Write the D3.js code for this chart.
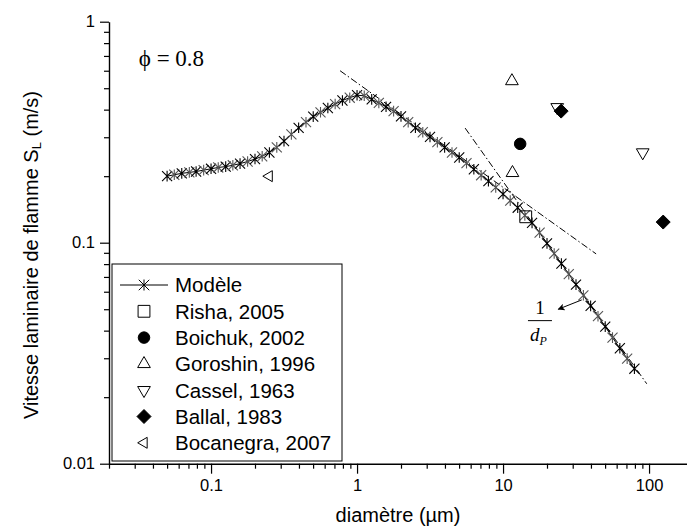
<!DOCTYPE html>
<html>
<head>
<meta charset="utf-8">
<script src="https://cdn.jsdelivr.net/npm/d3@7"></script>
<style>
  html, body { margin: 0; padding: 0; background: #fff; }
  svg { display: block; }
</style>
</head>
<body>
<script>
// ---------------- DATA ----------------
const modelDiameter = [0.050,0.056,0.063,0.071,0.079,0.089,0.100,0.112,0.126,0.141,0.158,0.178,0.200,0.224,0.251,0.282,0.316,0.355,0.398,0.447,0.501,0.562,0.631,0.708,0.794,0.891,1.00,1.12,1.26,1.41,1.58,1.78,2.00,2.24,2.51,2.82,3.16,3.55,3.98,4.47,5.01,5.62,6.31,7.08,7.94,8.91,10.0,11.2,12.6,14.1,15.8,17.8,20.0,22.4,25.1,28.2,31.6,35.5,39.8,44.7,50.1,56.2,63.1,70.8,79.4];
const modelSpeed = [0.200,0.203,0.206,0.208,0.210,0.213,0.216,0.219,0.221,0.224,0.228,0.233,0.239,0.246,0.256,0.270,0.288,0.309,0.331,0.351,0.372,0.389,0.407,0.424,0.440,0.453,0.465,0.462,0.445,0.429,0.412,0.394,0.373,0.351,0.331,0.316,0.301,0.285,0.270,0.256,0.243,0.229,0.215,0.202,0.190,0.178,0.166,0.155,0.144,0.133,0.123,0.111,0.0993,0.0893,0.0804,0.0721,0.0646,0.0578,0.0518,0.0465,0.0417,0.0372,0.0333,0.0299,0.0269];

const risha     = [{d: 14.3, v: 0.131}];
const boichuk   = [{d: 13.1, v: 0.280}];
const goroshin  = [{d: 11.5, v: 0.539}, {d: 11.6, v: 0.207}];
const cassel    = [{d: 23.5, v: 0.410}, {d: 90.5, v: 0.256}];
const ballal    = [{d: 25.0, v: 0.394}, {d: 125, v: 0.124}];
const bocanegra = [{d: 0.25, v: 0.200}];

// guide lines (d^-1/2 and 1/d)
const guideSqrt = [{d: 0.765, v: 0.60}, {d: 43.4, v: 0.089}];
const guideInv  = [{d: 5.5, v: 0.33}, {d: 96.4, v: 0.023}];

const legendLabels = ["Modèle", "Risha, 2005", "Boichuk, 2002", "Goroshin, 1996", "Cassel, 1963", "Ballal, 1983", "Bocanegra, 2007"];

const xMajorTicks = [0.1, 1, 10, 100];
const xTickLabels = ["0.1", "1", "10", "100"];
const xMinorTicks = [0.02,0.03,0.04,0.05,0.06,0.07,0.08,0.09,0.2,0.3,0.4,0.5,0.6,0.7,0.8,0.9,2,3,4,5,6,7,8,9,20,30,40,50,60,70,80,90];
const yMajorTicks = [0.01, 0.1, 1];
const yTickLabels = ["0.01", "0.1", "1"];
const yMinorTicks = [0.02,0.03,0.04,0.05,0.06,0.07,0.08,0.09,0.2,0.3,0.4,0.5,0.6,0.7,0.8,0.9];

// annotation anchors (data space)
const phiLabel = {d: 0.032, v: 0.63, text: "ϕ = 0.8"};
const arrowFrom = {d: 34.6, v: 0.0551};
const arrowTo   = {d: 23.9, v: 0.0500};
const fracPos   = {d: 17.9, v: 0.0444};

// ---------------- CHART ----------------
const W = 687, H = 528;
const sans = "'Liberation Sans', Arial, Helvetica, sans-serif";
const serif = "'Liberation Serif', 'Times New Roman', 'DejaVu Serif', serif";

const svg = d3.select("body").append("svg")
  .attr("width", W).attr("height", H)
  .attr("viewBox", `0 0 ${W} ${H}`);
svg.append("rect").attr("width", W).attr("height", H).attr("fill", "#fff");

const x = d3.scaleLog().domain([0.02, 200]).range([109, 693]);
const y = d3.scaleLog().domain([0.01, 1]).range([463.7, 21.7]);

// X axis
const gx = svg.append("g").attr("transform", `translate(0,${y(0.01)})`);
gx.call(d3.axisBottom(x).tickValues(xMajorTicks)
  .tickFormat((d, i) => xTickLabels[i]).tickSize(10).tickPadding(6).tickSizeOuter(0));
const gxm = svg.append("g").attr("transform", `translate(0,${y(0.01)})`);
gxm.call(d3.axisBottom(x).tickValues(xMinorTicks).tickFormat("").tickSize(5).tickSizeOuter(0));
gxm.select(".domain").remove();

// Y axis
const gy = svg.append("g").attr("transform", `translate(${x(0.02)},0)`);
gy.call(d3.axisLeft(y).tickValues(yMajorTicks)
  .tickFormat((d, i) => yTickLabels[i]).tickSize(9).tickPadding(5).tickSizeOuter(0));
const gym = svg.append("g").attr("transform", `translate(${x(0.02)},0)`);
gym.call(d3.axisLeft(y).tickValues(yMinorTicks).tickFormat("").tickSize(5).tickSizeOuter(0));
gym.select(".domain").remove();

svg.selectAll(".domain").attr("stroke", "#000").attr("stroke-width", 1.4);
svg.selectAll(".tick line").attr("stroke", "#000").attr("stroke-width", 1.2);
svg.selectAll(".tick text").attr("fill", "#000")
  .style("font-family", sans).style("font-size", "16.5px");

// Axis titles
svg.append("text")
  .attr("x", 398).attr("y", 522)
  .attr("text-anchor", "middle")
  .style("font-family", sans).style("font-size", "20px")
  .text("diamètre (µm)");

const yt = svg.append("text")
  .attr("transform", "translate(38,255) rotate(-90)")
  .attr("text-anchor", "middle")
  .style("font-family", sans).style("font-size", "20px");
yt.append("tspan").text("Vitesse laminaire de flamme S");
yt.append("tspan").attr("baseline-shift", "-25%").style("font-size", "13px").text("L");
yt.append("tspan").text(" (m/s)");

// Guide lines
const line = d3.line().x(p => x(p.d)).y(p => y(p.v));
[guideSqrt, guideInv].forEach(g => {
  svg.append("path").attr("d", line(g))
    .attr("fill", "none").attr("stroke", "#000").attr("stroke-width", 1)
    .attr("stroke-dasharray", "7,2.5,1.5,2.5");
});

// Model line
const model = modelDiameter.map((d, i) => ({d, v: modelSpeed[i]}));
svg.append("path").attr("d", line(model))
  .attr("fill", "none").attr("stroke", "#000").attr("stroke-width", 1);

function starPath(r) {
  const a = r * 0.95;
  return `M0,${-r}V${r}M${-a},${-a}L${a},${a}M${-a},${a}L${a},${-a}`;
}
svg.append("g").selectAll("path").data(model).join("path")
  .attr("transform", p => `translate(${x(p.d)},${y(p.v)})`)
  .attr("d", starPath(5.3))
  .attr("fill", "none")
  .attr("stroke", (p, i) => i % 2 ? "#555" : "#000")
  .attr("stroke-width", 1.1);

// Symbols
const sym = {
  square: d3.symbol().type(d3.symbolSquare).size(140)(),
  circle: d3.symbol().type(d3.symbolCircle).size(104)(),
  tri: d3.symbol().type(d3.symbolTriangle).size(70)(),
  triSmall: d3.symbol().type(d3.symbolTriangle).size(52)(),
  diamond: "M0,-7L7,0L0,7L-7,0Z"
};
const series = [
  {data: risha,     path: sym.square,   rot: 0,   fill: "none"},
  {data: boichuk,   path: sym.circle,   rot: 0,   fill: "#000"},
  {data: goroshin,  path: sym.tri,      rot: 0,   fill: "none"},
  {data: cassel,    path: sym.tri,      rot: 180, fill: "none"},
  {data: ballal,    path: sym.diamond,  rot: 0,   fill: "#000"},
  {data: bocanegra, path: sym.triSmall, rot: -90, fill: "none"}
];
series.forEach(s => {
  svg.append("g").selectAll("path").data(s.data).join("path")
    .attr("transform", p => `translate(${x(p.d)},${y(p.v)}) rotate(${s.rot})`)
    .attr("d", s.path)
    .attr("fill", s.fill === "none" ? "#fff" : s.fill)
    .attr("fill-opacity", s.fill === "none" ? 0 : 1)
    .attr("stroke", "#000").attr("stroke-width", 1);
});

// phi label
svg.append("text")
  .attr("x", x(phiLabel.d)).attr("y", y(phiLabel.v))
  .style("font-family", serif).style("font-size", "23px")
  .text(phiLabel.text);

// 1/dP annotation with arrow
svg.append("defs").append("marker")
  .attr("id", "ah").attr("viewBox", "0 0 10 10")
  .attr("refX", 9).attr("refY", 5)
  .attr("markerWidth", 10).attr("markerHeight", 7)
  .attr("markerUnits", "userSpaceOnUse")
  .attr("orient", "auto")
  .append("path").attr("d", "M0,0L10,5L0,10L2.5,5Z").attr("fill", "#000");
svg.append("line")
  .attr("x1", x(arrowFrom.d)).attr("y1", y(arrowFrom.v))
  .attr("x2", x(arrowTo.d)).attr("y2", y(arrowTo.v))
  .attr("stroke", "#000").attr("stroke-width", 1)
  .attr("marker-end", "url(#ah)");

const fx = x(fracPos.d), fy = y(fracPos.v);
svg.append("text").attr("x", fx).attr("y", fy - 7)
  .attr("text-anchor", "middle")
  .style("font-family", serif).style("font-size", "19px").text("1");
svg.append("line").attr("x1", fx - 12).attr("x2", fx + 12)
  .attr("y1", fy).attr("y2", fy).attr("stroke", "#000").attr("stroke-width", 1);
const dt = svg.append("text").attr("x", fx - 10).attr("y", fy + 20)
  .style("font-family", serif).style("font-size", "19px").style("font-style", "italic");
dt.append("tspan").text("d");
dt.append("tspan").attr("dy", 4).style("font-size", "12px").text("P");

// Legend
const lg = svg.append("g");
lg.append("rect").attr("x", 112).attr("y", 264).attr("width", 230).attr("height", 197)
  .attr("fill", "#fff").attr("stroke", "#000").attr("stroke-width", 1);
const legendSyms = [null, series[0], series[1], series[2], series[3], series[4], series[5]];
legendLabels.forEach((lab, i) => {
  const cy = 285 + i * 26.3;
  if (i === 0) {
    lg.append("line").attr("x1", 120).attr("x2", 168).attr("y1", cy).attr("y2", cy)
      .attr("stroke", "#000").attr("stroke-width", 1);
    lg.append("path").attr("transform", `translate(144,${cy})`).attr("d", starPath(5.5))
      .attr("fill", "none").attr("stroke", "#000").attr("stroke-width", 1);
  } else {
    const s = legendSyms[i];
    lg.append("path").attr("transform", `translate(144,${cy}) rotate(${s.rot})`)
      .attr("d", s.path)
      .attr("fill", s.fill === "none" ? "#fff" : s.fill)
      .attr("fill-opacity", s.fill === "none" ? 0 : 1)
      .attr("stroke", "#000").attr("stroke-width", 1);
  }
  lg.append("text").attr("x", 175).attr("y", cy).attr("dy", "0.36em")
    .style("font-family", sans).style("font-size", "20.5px").text(lab);
});
</script>
</body>
</html>
